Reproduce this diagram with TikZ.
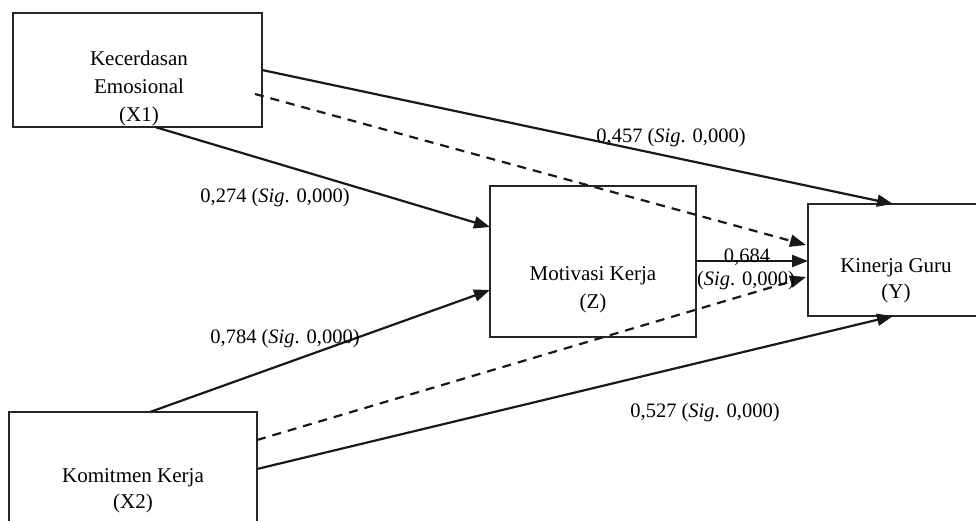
\documentclass[tikz,border=0pt]{standalone}
\usepackage{fontspec}
\setmainfont{Liberation Serif}
\usetikzlibrary{arrows.meta}
\tikzset{
  box/.style={draw=black!85, line width=2pt, inner sep=0pt},
  txt/.style={anchor=base, inner sep=0pt, font=\fontsize{21}{28}\selectfont},
  lab/.style={anchor=base, inner sep=0pt, font=\fontsize{20.5}{24}\selectfont},
  path/.style={line width=2.2pt, draw=black!90, -{Triangle[length=16pt,width=12pt]}},
  dpath/.style={path, dash pattern=on 9pt off 7pt},
}
\begin{document}
\begin{tikzpicture}[x=1pt,y=-1pt]
\useasboundingbox (0,0) rectangle (976,520);
\clip (0,0) rectangle (976,520);
\fill[white] (0,0) rectangle (976,520);
% boxes
\node[box, minimum width=249pt, minimum height=114pt] (X1) at (137.5,70) {};
\node[box, minimum width=248pt, minimum height=160pt] (X2) at (133,492) {};
\node[box, minimum width=206pt, minimum height=151pt] (Z) at (593,261.5) {};
\node[box, minimum width=190pt, minimum height=112pt] (Y) at (903,260) {};
% box texts
\node[txt] (X1a) at (139,65) {Kecerdasan};
\node[txt] (X1b) at (139,93) {Emosional};
\node[txt] (X1c) at (139,121) {(X1)};
\node[txt] (X2a) at (133,482) {Komitmen Kerja};
\node[txt] (X2b) at (133,508) {(X2)};
\node[txt] (Za) at (593,280) {Motivasi Kerja};
\node[txt] (Zb) at (593,308) {(Z)};
\node[txt] (Ya) at (896,272) {Kinerja Guru};
\node[txt] (Yb) at (896,298) {(Y)};
% connector endpoints
\coordinate (s1) at (262,70);
\coordinate (e1) at (893,204);
\coordinate (s2) at (255,94);
\coordinate (e2) at (806,245);
\coordinate (s3) at (155,127);
\coordinate (e3) at (490,227);
\coordinate (s4) at (150,412);
\coordinate (e4) at (490,290);
\coordinate (s5) at (257,440);
\coordinate (e5) at (806,277);
\coordinate (s6) at (257,469);
\coordinate (e6) at (893,316);
\coordinate (s7) at (696,261);
\coordinate (e7) at (808,261);
% connectors
\draw[path] (s1) -- (e1);
\draw[dpath] (s2) -- (e2);
\draw[path] (s3) -- (e3);
\draw[path] (s4) -- (e4);
\draw[dpath] (s5) -- (e5);
\draw[path] (s6) -- (e6);
\draw[path] (s7) -- (e7);
% labels
\node[lab] (L1) at (671,142) {0,457 (\textit{Sig}. 0,000)};
\node[lab] (L2) at (275,202) {0,274 (\textit{Sig}. 0,000)};
\node[lab] (L3) at (285,343) {0,784 (\textit{Sig}. 0,000)};
\node[lab] (L4) at (705,417) {0,527 (\textit{Sig}. 0,000)};
\node[lab] (L5a) at (747,262) {0,684};
\node[lab] (L5b) at (746,285) {(\textit{Sig}. 0,000)};
\end{tikzpicture}
\end{document}
